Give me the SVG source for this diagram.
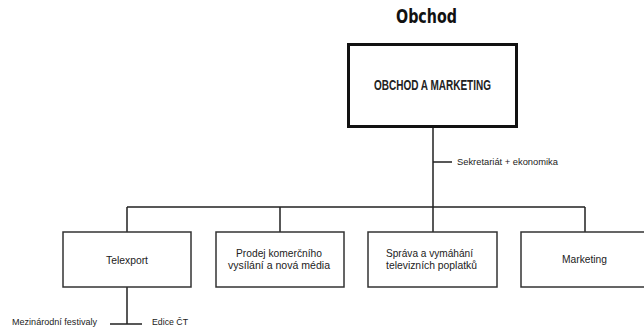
<svg xmlns="http://www.w3.org/2000/svg" width="644" height="331" viewBox="0 0 644 331">
<style>
.t{font-family:"Liberation Sans",Arial,sans-serif;fill:#222}
.box{fill:#fff;stroke:#333;stroke-width:1.5}
.ln{stroke:#222;stroke-width:1.5;fill:none}
.s{font-size:11px}
.xs{font-size:9.5px}
</style>
<rect width="644" height="331" fill="#fff"/>
<text x="426.5" y="23" font-family="'DejaVu Sans Condensed','DejaVu Sans',sans-serif" font-size="19" font-weight="bold" fill="#111" text-anchor="middle" textLength="61" lengthAdjust="spacingAndGlyphs">Obchod</text>
<g id="connectors">
<path class="ln" d="M433 127V207M433 162H452M127 207H585M127 207V232M280 207V232M433 207V232M585 207V232M127 287V324M110 324H142"/>
</g>
<g id="main">
<rect x="348.5" y="44.5" width="168" height="82" fill="#fff" stroke="#111" stroke-width="3"/>
<text class="t" x="432.5" y="90" font-size="15" font-weight="bold" text-anchor="middle" textLength="117" lengthAdjust="spacingAndGlyphs">OBCHOD A MARKETING</text>
</g>
<g id="sekretariat"><text class="t xs" x="457" y="165" textLength="101" lengthAdjust="spacingAndGlyphs">Sekretariát + ekonomika</text></g>
<g id="telexport">
<rect class="box" x="63" y="232" width="128" height="55"/>
<text class="t s" x="106" y="264" textLength="42" lengthAdjust="spacingAndGlyphs">Telexport</text>
</g>
<g id="prodej">
<rect class="box" x="216" y="232" width="128" height="55"/>
<text class="t s" x="236" y="257" textLength="86" lengthAdjust="spacingAndGlyphs">Prodej komerčního</text>
<text class="t s" x="228" y="269" textLength="102" lengthAdjust="spacingAndGlyphs">vysílání a nová média</text>
</g>
<g id="sprava">
<rect class="box" x="368" y="232" width="129" height="55"/>
<text class="t s" x="386" y="257" textLength="87" lengthAdjust="spacingAndGlyphs">Správa a vymáhání</text>
<text class="t s" x="386" y="269" textLength="91" lengthAdjust="spacingAndGlyphs">televizních poplatků</text>
</g>
<g id="marketing">
<rect class="box" x="521" y="232" width="128" height="55" stroke-width="2"/>
<text class="t s" x="562" y="263" textLength="45" lengthAdjust="spacingAndGlyphs">Marketing</text>
</g>
<g id="festivaly"><text class="t xs" x="12" y="325" textLength="85" lengthAdjust="spacingAndGlyphs">Mezinárodní festivaly</text></g>
<g id="edice"><text class="t xs" x="152" y="325" textLength="36" lengthAdjust="spacingAndGlyphs">Edice ČT</text></g>
</svg>
